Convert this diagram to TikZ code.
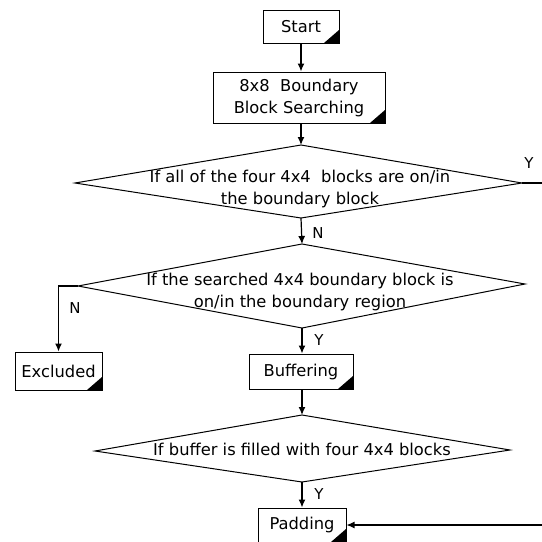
\documentclass[tikz,border=0pt]{standalone}
\usepackage{fontspec}
\setmainfont{DejaVu Sans}
\usetikzlibrary{arrows.meta}
\begin{document}
\begin{tikzpicture}[x=1pt,y=-1pt,
  every node/.style={font=\fontsize{16.3}{22}\selectfont},
  flowbox/.style={draw,line width=1pt,inner sep=0pt,minimum width=#1,
    path picture={\fill (path picture bounding box.south east) -- ++(-15pt,0pt) -- ++(15pt,13pt) -- cycle;}},
  decision/.style={draw,line width=1pt},
  arr/.style={line width=1.2pt,-{Latex[length=8pt,width=7pt]}},
  lbl/.style={inner sep=0pt,font=\fontsize{15}{18}\selectfont}]
\useasboundingbox (0,0) rectangle (542,542);
% boxes
\node[flowbox=76pt,minimum height=33pt] (start) at (301,26.5) {Start};
\node[flowbox=172pt,minimum height=51pt,align=center] (search) at (299,97.5) {8x8~~Boundary\\Block Searching};
\node[flowbox=87pt,minimum height=38pt] (excl) at (58.5,371) {Excluded};
\node[flowbox=104pt,minimum height=35pt] (buf) at (301,371.5) {Buffering};
\node[flowbox=88pt,minimum height=34pt] (pad) at (302,525) {Padding};
% diamond 1
\coordinate (d1t) at (301,145);
\coordinate (d1l) at (75,183);
\coordinate (d1r) at (522,183);
\coordinate (d1b) at (301,218);
\draw[decision] (d1t) -- (d1r) -- (d1b) -- (d1l) -- cycle;
\node[align=center,inner sep=0pt] (d1txt) at (300,188.5) {If all of the four 4x4~~blocks are on/in\\the boundary block};
% diamond 2
\coordinate (d2t) at (302,244);
\coordinate (d2l) at (78,286);
\coordinate (d2r) at (525,284);
\coordinate (d2b) at (302,328);
\draw[decision] (d2t) -- (d2r) -- (d2b) -- (d2l) -- cycle;
\node[align=center,inner sep=0pt] (d2txt) at (300,292) {If the searched 4x4 boundary block is\\on/in the boundary region};
% diamond 3
\coordinate (d3t) at (302,415);
\coordinate (d3l) at (95,451);
\coordinate (d3r) at (510,450);
\coordinate (d3b) at (302,482);
\draw[decision] (d3t) -- (d3r) -- (d3b) -- (d3l) -- cycle;
\node[inner sep=0pt] (d3txt) at (302,449) {If buffer is filled with four 4x4 blocks};
% connectors
\draw[arr] (start.south) -- (start.south |- search.north);
\draw[arr] (search.south -| d1t) -- (d1t);
\draw[arr] (d1b) -- (d2t);
\draw[arr] (d2b) -- (buf.north -| d2b);
\draw[arr] (d2l) -- (d2l -| excl.north) -- (excl.north);
\draw[arr] (buf.south -| d3t) -- (d3t);
\draw[arr] (d3b) -- (pad.north -| d3b);
\coordinate (rturn) at (560,183);
\draw[arr] (d1r) -- (rturn) -- (rturn |- pad.east) -- (pad.east);
% labels
\node[lbl] (y1) at (529,163) {Y};
\node[lbl] (n1) at (318,233) {N};
\node[lbl] (n2) at (75,308) {N};
\node[lbl] (y2) at (319,340) {Y};
\node[lbl] (y3) at (319,494) {Y};
\end{tikzpicture}
\end{document}
